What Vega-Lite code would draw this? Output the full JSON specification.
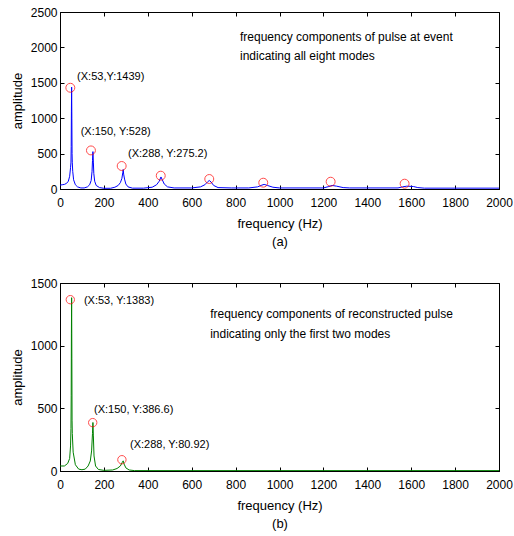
{
  "$schema": "https://vega.github.io/schema/vega-lite/v6.json",
  "padding": {"left": 10, "top": 5, "right": 5, "bottom": 5},
  "background": "white",
  "spacing": 27,
  "config": {
    "font": "Liberation Sans",
    "view": {"stroke": "black", "strokeWidth": 1},
    "axis": {"domainColor": "black", "tickColor": "black", "labelColor": "black", "titleColor": "black", "labelFont": "Liberation Sans", "titleFont": "Liberation Sans", "labelFontSize": 12, "titleFontSize": 13, "titleFontWeight": "normal", "grid": false, "labelOverlap": false, "labelFlush": false, "format": "d"}
  },
  "datasets": {
    "top": [
      {"f":0,"a":55},{"f":10,"a":60},{"f":20,"a":65},{"f":30,"a":80},{"f":38,"a":110},{"f":44,"a":180},{"f":48,"a":300},{"f":50,"a":380},{"f":51,"a":600},{"f":52,"a":1100},{"f":53,"a":1439},{"f":54,"a":1000},{"f":55,"a":500},{"f":56,"a":370},{"f":58,"a":250},{"f":62,"a":130},{"f":70,"a":60},{"f":80,"a":30},{"f":95,"a":15},{"f":110,"a":15},{"f":125,"a":30},{"f":135,"a":60},{"f":142,"a":120},{"f":146,"a":250},{"f":148,"a":400},{"f":150,"a":528},{"f":152,"a":380},{"f":154,"a":220},{"f":158,"a":110},{"f":165,"a":50},{"f":180,"a":20},{"f":200,"a":10},{"f":230,"a":10},{"f":250,"a":25},{"f":265,"a":50},{"f":275,"a":90},{"f":282,"a":150},{"f":286,"a":230},{"f":288,"a":275},{"f":290,"a":210},{"f":294,"a":140},{"f":300,"a":70},{"f":310,"a":30},{"f":330,"a":12},{"f":380,"a":12},{"f":420,"a":25},{"f":440,"a":60},{"f":452,"a":110},{"f":460,"a":170},{"f":466,"a":130},{"f":475,"a":70},{"f":490,"a":30},{"f":520,"a":15},{"f":600,"a":15},{"f":640,"a":30},{"f":660,"a":60},{"f":672,"a":100},{"f":680,"a":120},{"f":688,"a":100},{"f":700,"a":50},{"f":720,"a":20},{"f":780,"a":15},{"f":860,"a":15},{"f":900,"a":30},{"f":920,"a":55},{"f":930,"a":65},{"f":945,"a":50},{"f":970,"a":25},{"f":1000,"a":15},{"f":1200,"a":15},{"f":1225,"a":35},{"f":1240,"a":50},{"f":1260,"a":40},{"f":1290,"a":20},{"f":1320,"a":15},{"f":1540,"a":15},{"f":1560,"a":30},{"f":1580,"a":40},{"f":1610,"a":35},{"f":1630,"a":20},{"f":1660,"a":12},{"f":2000,"a":12}
    ],
    "bottom": [
      {"f":0,"a":40},{"f":20,"a":40},{"f":35,"a":60},{"f":44,"a":100},{"f":48,"a":200},{"f":50,"a":340},{"f":51,"a":600},{"f":52,"a":1100},{"f":53,"a":1383},{"f":54,"a":900},{"f":55,"a":400},{"f":56,"a":300},{"f":60,"a":150},{"f":70,"a":50},{"f":85,"a":15},{"f":100,"a":10},{"f":115,"a":15},{"f":128,"a":40},{"f":138,"a":80},{"f":144,"a":160},{"f":148,"a":300},{"f":150,"a":387},{"f":152,"a":280},{"f":155,"a":120},{"f":162,"a":40},{"f":175,"a":12},{"f":200,"a":5},{"f":240,"a":8},{"f":260,"a":20},{"f":275,"a":40},{"f":284,"a":70},{"f":288,"a":81},{"f":292,"a":55},{"f":300,"a":25},{"f":315,"a":8},{"f":340,"a":3},{"f":2000,"a":3}
    ],
    "topCircles": [
      {"f":47,"a":1430},{"f":141,"a":545},{"f":281,"a":325},{"f":459,"a":188},{"f":680,"a":141},{"f":926,"a":89},{"f":1233,"a":103},{"f":1570,"a":75}
    ],
    "bottomCircles": [
      {"f":47,"a":1367},{"f":149,"a":386},{"f":282,"a":90}
    ],
    "topLabels": [
      {"f":78,"a":1582,"t":"(X:53,Y:1439)"},
      {"f":94,"a":805,"t":"(X:150, Y:528)"},
      {"f":310,"a":494,"t":"(X:288, Y:275.2)"}
    ],
    "bottomLabels": [
      {"f":109,"a":1353,"t":"(X:53, Y:1383)"},
      {"f":155,"a":489,"t":"(X:150, Y:386.6)"},
      {"f":319,"a":204,"t":"(X:288, Y:80.92)"}
    ],
    "topNote": [{"f":820,"a":2151,"t":"frequency components of pulse at event"},{"f":820,"a":1883,"t":"indicating all eight modes"}],
    "bottomNote": [{"f":684,"a":1250,"t":"frequency components of reconstructed pulse"},{"f":684,"a":1090,"t":"indicating only the first two modes"}]
  },
  "vconcat": [
    {
      "width": 439, "height": 177,
      "resolve": {"axis": {"x": "independent", "y": "independent"}},
      "layer": [
        {
          "data": {"name": "top"},
          "mark": {"type": "line", "color": "#0000ff", "strokeWidth": 1, "clip": true},
          "encoding": {
            "x": {"field": "f", "type": "quantitative", "scale": {"domain": [0, 2000], "nice": false}, "axis": {"orient": "bottom", "title": ["frequency (Hz)", "(a)"], "titleLineHeight": 18, "titlePadding": 9, "values": [0,200,400,600,800,1000,1200,1400,1600,1800,2000], "tickSize": -4, "labelPadding": 12}},
            "y": {"field": "a", "type": "quantitative", "scale": {"domain": [0, 2500], "nice": false}, "axis": {"orient": "left", "title": "amplitude", "values": [0,500,1000,1500,2000,2500], "tickSize": -4, "labelPadding": 7, "titlePadding": 6}}
          }
        },
        {
          "data": {"name": "topCircles"},
          "mark": {"type": "point", "shape": "circle", "filled": false, "color": "red", "size": 80, "strokeWidth": 1},
          "encoding": {
            "x": {"field": "f", "type": "quantitative", "axis": {"orient": "top", "labels": false, "title": null, "domain": false, "values": [0,200,400,600,800,1000,1200,1400,1600,1800,2000], "tickSize": -4}},
            "y": {"field": "a", "type": "quantitative", "axis": {"orient": "right", "labels": false, "title": null, "domain": false, "values": [0,500,1000,1500,2000,2500], "tickSize": -4}}
          }
        },
        {
          "data": {"name": "topLabels"},
          "mark": {"type": "text", "align": "left", "baseline": "middle", "fontSize": 11, "color": "black"},
          "encoding": {
            "x": {"field": "f", "type": "quantitative", "axis": null},
            "y": {"field": "a", "type": "quantitative", "axis": null},
            "text": {"field": "t"}
          }
        },
        {
          "data": {"name": "topNote"},
          "mark": {"type": "text", "align": "left", "baseline": "middle", "fontSize": 12, "color": "black"},
          "encoding": {
            "x": {"field": "f", "type": "quantitative", "axis": null},
            "y": {"field": "a", "type": "quantitative", "axis": null},
            "text": {"field": "t"}
          }
        }
      ]
    },
    {
      "width": 439, "height": 188,
      "resolve": {"axis": {"x": "independent", "y": "independent"}},
      "layer": [
        {
          "data": {"name": "bottom"},
          "mark": {"type": "line", "color": "#008000", "strokeWidth": 1, "clip": true},
          "encoding": {
            "x": {"field": "f", "type": "quantitative", "scale": {"domain": [0, 2000], "nice": false}, "axis": {"orient": "bottom", "title": ["frequency (Hz)", "(b)"], "titleLineHeight": 18, "titlePadding": 9, "values": [0,200,400,600,800,1000,1200,1400,1600,1800,2000], "tickSize": -4, "labelPadding": 12}},
            "y": {"field": "a", "type": "quantitative", "scale": {"domain": [0, 1500], "nice": false}, "axis": {"orient": "left", "title": "amplitude", "values": [0,500,1000,1500], "tickSize": -4, "labelPadding": 7, "titlePadding": 6}}
          }
        },
        {
          "data": {"name": "bottomCircles"},
          "mark": {"type": "point", "shape": "circle", "filled": false, "color": "red", "size": 70, "strokeWidth": 1},
          "encoding": {
            "x": {"field": "f", "type": "quantitative", "axis": {"orient": "top", "labels": false, "title": null, "domain": false, "values": [0,200,400,600,800,1000,1200,1400,1600,1800,2000], "tickSize": -4}},
            "y": {"field": "a", "type": "quantitative", "axis": {"orient": "right", "labels": false, "title": null, "domain": false, "values": [0,500,1000,1500], "tickSize": -4}}
          }
        },
        {
          "data": {"name": "bottomLabels"},
          "mark": {"type": "text", "align": "left", "baseline": "middle", "fontSize": 11, "color": "black"},
          "encoding": {
            "x": {"field": "f", "type": "quantitative", "axis": null},
            "y": {"field": "a", "type": "quantitative", "axis": null},
            "text": {"field": "t"}
          }
        },
        {
          "data": {"name": "bottomNote"},
          "mark": {"type": "text", "align": "left", "baseline": "middle", "fontSize": 12, "color": "black"},
          "encoding": {
            "x": {"field": "f", "type": "quantitative", "axis": null},
            "y": {"field": "a", "type": "quantitative", "axis": null},
            "text": {"field": "t"}
          }
        }
      ]
    }
  ]
}
